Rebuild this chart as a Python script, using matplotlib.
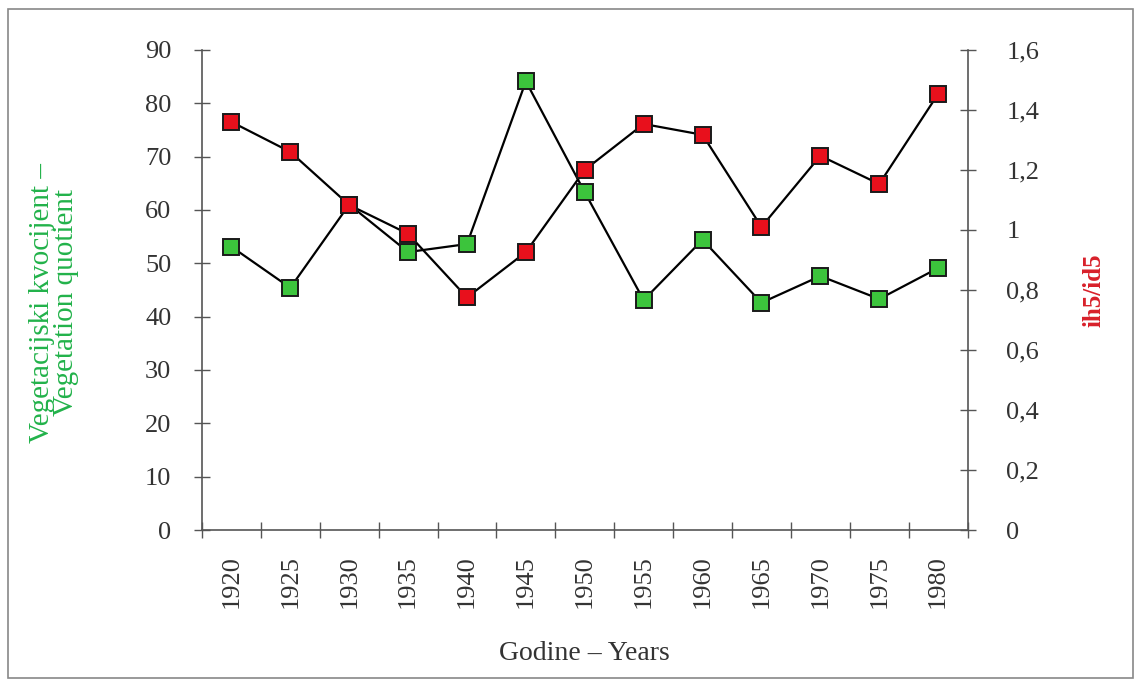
import numpy as np
import matplotlib.pyplot as plt
from matplotlib.patches import Rectangle

# Données
godine = ["1920", "1925", "1930", "1935", "1940", "1945", "1950",
          "1955", "1960", "1965", "1970", "1975", "1980"]
vegetacijski = [53.1, 45.4, 61.0, 52.1, 53.6, 84.1, 63.3,
                43.1, 54.4, 42.6, 47.6, 43.3, 49.1]
ih5_id5 = [1.36, 1.26, 1.083, 0.987, 0.775, 0.926, 1.20,
           1.353, 1.317, 1.01, 1.247, 1.153, 1.453]

plt.rcParams['font.family'] = ['Liberation Serif', 'DejaVu Serif']

zelena = '#3cc43c'
crvena = '#e8101c'
os_boja = '#555555'

fig = plt.figure(figsize=(11.41, 6.83), dpi=100)
ax = fig.add_axes([0.177, 0.224, 0.671, 0.703])
ax2 = ax.twinx()

x = np.arange(len(godine))

ax.plot(x, vegetacijski, '-s', color='black', lw=1.6, ms=11.5,
        markerfacecolor=zelena, markeredgecolor='#1a1a1a', markeredgewidth=1.4, zorder=3)
ax2.plot(x, ih5_id5, '-s', color='black', lw=1.6, ms=11.5,
         markerfacecolor=crvena, markeredgecolor='#1a1a1a', markeredgewidth=1.4, zorder=3)

# Osi
ax.set_xlim(-0.5, len(godine) - 0.5)
ax.set_ylim(0, 90)
ax2.set_ylim(0, 1.6)

ax.set_yticks(np.arange(0, 91, 10))
ax2.set_yticks(np.arange(0, 1.61, 0.2))
ax2.set_yticklabels(["0", "0,2", "0,4", "0,6", "0,8", "1", "1,2", "1,4", "1,6"])

ax.set_xticks(np.arange(-0.5, len(godine), 1.0))
ax.set_xticklabels([])
ax.set_xticks(x, minor=True)
ax.set_xticklabels(godine, minor=True, rotation=90)

for a in (ax, ax2):
    a.spines['top'].set_visible(False)
    for s in a.spines.values():
        s.set_color(os_boja)
        s.set_linewidth(1.2)
ax2.spines['left'].set_visible(False)
ax2.spines['bottom'].set_visible(False)
ax.spines['right'].set_visible(False)

ax.tick_params(axis='y', direction='inout', length=12, width=1, color=os_boja,
               labelsize=19, labelcolor='#333333', pad=16)
ax2.tick_params(axis='y', direction='inout', length=12, width=1, color=os_boja,
                labelsize=19, labelcolor='#333333', pad=22)
ax.tick_params(axis='x', which='major', direction='inout', length=12, width=1, color=os_boja)
ax.tick_params(axis='x', which='minor', length=0, labelsize=19, labelcolor='#333333', pad=18)

ax.set_xlabel("Godine – Years", fontsize=20, color='#333333', labelpad=24)

fig.text(0.037, 0.557, "Vegetacijski kvocijent –", rotation=90,
         ha='center', va='center', fontsize=21, color='#22b24a')
fig.text(0.058, 0.557, "Vegetation quotient", rotation=90,
         ha='center', va='center', fontsize=21, color='#22b24a')
fig.text(0.959, 0.575, "ih5/id5", rotation=90, ha='center', va='center',
         fontsize=18, color='#d8202a', fontweight='bold')

# Okvir
fig.patches.append(Rectangle((0.007, 0.008), 0.986, 0.979, transform=fig.transFigure,
                             fill=False, edgecolor='#888888', linewidth=1.2))

fig.savefig("out.png", dpi=100, facecolor='white')
